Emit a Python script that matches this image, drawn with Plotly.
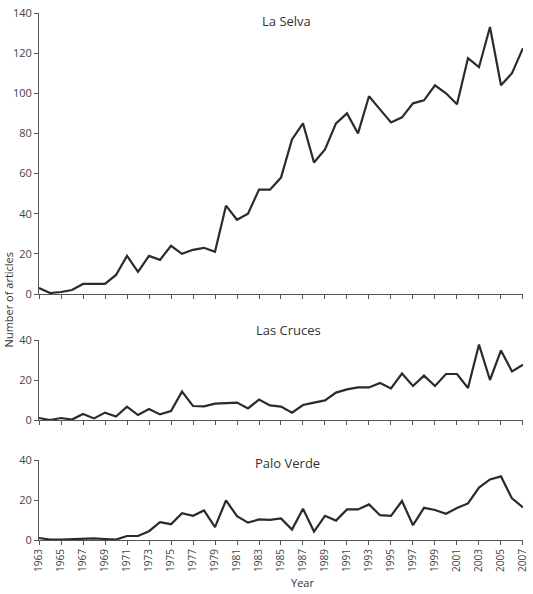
import plotly.graph_objects as go
from plotly.subplots import make_subplots

years = list(range(1963, 2008))

la_selva = [3, 0.5, 1, 2, 5, 5, 5, 9.5, 19, 11, 19, 17, 24, 20, 22, 23, 21, 44, 37, 40, 52, 52,
            58, 77, 85, 65.5, 72, 85, 90, 80, 98.5, 92, 85.5, 88, 95, 96.5, 104, 100, 94.5,
            117.5, 113, 133, 104, 110, 122.5]

las_cruces = [1, 0, 1, 0.2, 3, 0.8, 3.7, 1.7, 6.7, 2.5, 5.5, 2.8, 4.5, 14.2, 7, 6.8, 8.2, 8.5,
              8.7, 5.8, 10.2, 7.3, 6.7, 3.7, 7.5, 8.7, 9.8, 13.7, 15.3, 16.3, 16.3, 18.5, 15.8,
              23.2, 17, 22.2, 17, 23, 23, 16, 37.7, 20, 34.8, 24.3, 27.7]

palo_verde = [1, 0.2, 0.2, 0.3, 0.5, 0.8, 0.5, 0.2, 2, 2, 4.4, 8.9, 7.9, 13.4, 12.1, 14.8, 6.4,
              19.8, 11.9, 8.7, 10.3, 10.1, 10.8, 5.2, 15.6, 4.2, 12.1, 9.7, 15.3, 15.3, 17.8,
              12.4, 12.1, 19.5, 7.4, 16.1, 15, 13.1, 16, 18.3, 26.2, 30.3, 31.8, 20.8, 16.3]

site_names = ["La Selva", "Las Cruces", "Palo Verde"]
series = [la_selva, las_cruces, palo_verde]
y_ticks = [list(range(0, 141, 20)), [0, 20, 40], [0, 20, 40]]
y_ranges = [[0, 140], [0, 40], [0, 40]]
x_ticks = list(range(1963, 2008, 2))

W, H = 533, 594
ML, MR, MT, MB = 39, 4, 13, 54
PH = H - MT - MB

def ydom(top_px, bot_px):
    return [(H - MB - bot_px) / PH, (H - MB - top_px) / PH]

domains = [ydom(13, 294), ydom(340, 420), ydom(460, 540)]

fig = make_subplots(rows=3, cols=1)

font_family = "Open Sans, Noto Sans, sans-serif"
line_color = "#2b2b2b"
text_color = "#444444"

for i, (name, vals) in enumerate(zip(site_names, series)):
    r = i + 1
    fig.add_trace(go.Scatter(x=years, y=vals, mode="lines",
                             line=dict(color=line_color, width=2.2),
                             showlegend=False, name=name), row=r, col=1)
    fig.update_xaxes(range=[1963, 2007.001], tickvals=x_ticks,
                     ticktext=[str(y) for y in x_ticks],
                     showticklabels=(r == 3), tickangle=-90,
                     ticklabeloverflow="allow",
                     ticks="outside", ticklen=4, tickcolor="#555",
                     showline=True, linecolor="#555", linewidth=1,
                     showgrid=False, zeroline=False,
                     tickfont=dict(size=10, color=text_color, family=font_family),
                     row=r, col=1)
    fig.update_yaxes(range=y_ranges[i], tickvals=y_ticks[i], domain=domains[i],
                     ticks="outside", ticklen=4, tickcolor="#555",
                     showline=True, linecolor="#555", linewidth=1,
                     showgrid=False, zeroline=False,
                     tickfont=dict(size=11, color=text_color, family=font_family),
                     row=r, col=1)

title_pos = [(290, 21), (292, 330), (291, 463)]
for name, (px, py) in zip(site_names, title_pos):
    fig.add_annotation(text=name, xref="paper", yref="paper",
                       x=(px - ML) / (W - ML - MR), y=(H - MB - py) / PH,
                       xanchor="center", yanchor="middle", showarrow=False,
                       font=dict(size=13, color="#333", family=font_family))

fig.add_annotation(text="Number of articles", xref="paper", yref="paper",
                   x=(8 - ML) / (W - ML - MR), y=(H - MB - 300) / PH,
                   xanchor="center", yanchor="middle", textangle=-90, showarrow=False,
                   font=dict(size=11, color="#333", family=font_family))
fig.add_annotation(text="Year", xref="paper", yref="paper",
                   x=(306 - ML) / (W - ML - MR), y=(H - MB - 582) / PH,
                   xanchor="center", yanchor="middle", showarrow=False,
                   font=dict(size=11, color="#333", family=font_family))

fig.update_layout(width=W, height=H, margin=dict(l=ML, r=MR, t=MT, b=MB),
                  plot_bgcolor="white", paper_bgcolor="white",
                  font=dict(family=font_family))

fig.write_html("out.html")
